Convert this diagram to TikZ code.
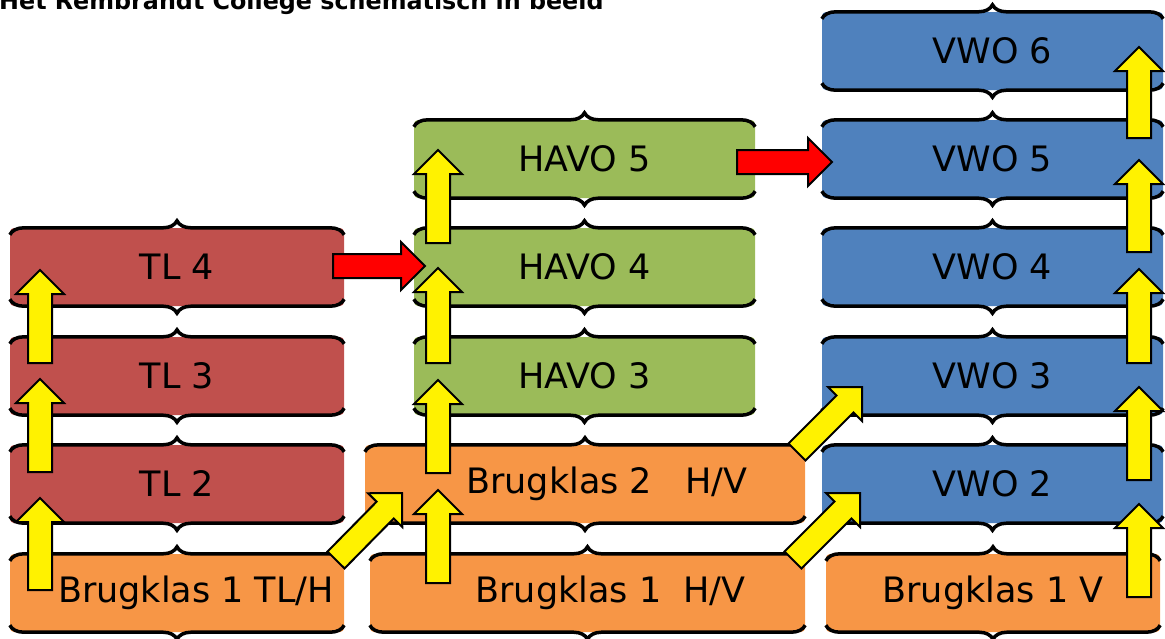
\documentclass[tikz,border=0pt]{standalone}
\usepackage{fontspec}
\setmainfont{DejaVu Sans}
\usetikzlibrary{calc,decorations.pathreplacing}

\definecolor{tlred}{HTML}{C0504D}
\definecolor{havogreen}{HTML}{9BBB59}
\definecolor{vwoblue}{HTML}{4F81BD}
\definecolor{brugorange}{HTML}{F79646}

\tikzset{
  level/.style={fill=#1, rounded corners=4pt, inner sep=0pt, minimum height=78pt,
    font=\fontsize{35pt}{42pt}\selectfont},
  brace line/.style={decorate, decoration={brace, amplitude=14pt}, line width=3.5pt},
}

% block arrow from #2 to #3, filled with #1
\newcommand{\blockarrow}[3]{%
  \filldraw[fill=#1, draw=black, line width=2pt]
    ($(#2)!12pt!-90:(#3)$) -- ($(#3)!24pt!(#2)!12pt!90:(#2)$) -- ($(#3)!24pt!(#2)!24pt!90:(#2)$) -- (#3)
    -- ($(#3)!24pt!(#2)!24pt!-90:(#2)$) -- ($(#3)!24pt!(#2)!12pt!-90:(#2)$) -- ($(#2)!12pt!90:(#3)$) -- cycle;}

\begin{document}
\begin{tikzpicture}[x=1pt,y=-1pt]
\useasboundingbox (0,0) rectangle (1165,638);

\node[anchor=base west, inner sep=0pt, font=\bfseries\fontsize{23.8pt}{28pt}\selectfont] (title) at (-1,9)
  {Het Rembrandt College schematisch in beeld};

% TL
\node[level=tlred, minimum width=334pt] (tl4) at (177,267) {TL 4};
\node[level=tlred, minimum width=334pt] (tl3) at (177,376) {TL 3};
\node[level=tlred, minimum width=334pt] (tl2) at (177,484) {TL 2};
\node[level=brugorange, minimum width=334pt] (bk1tlh) at (177,593) {\hspace*{38pt}Brugklas 1 TL/H};

% HAVO
\node[level=havogreen, minimum width=341pt] (havo5) at (584.5,159) {HAVO 5};
\node[level=havogreen, minimum width=341pt] (havo4) at (584.5,267) {HAVO 4};
\node[level=havogreen, minimum width=341pt] (havo3) at (584.5,376) {HAVO 3};
\node[level=brugorange, minimum width=440pt] (bk2hv) at (585,484) {\hspace*{44pt}Brugklas 2~~~H/V};
\node[level=brugorange, minimum width=435pt] (bk1hv) at (587.5,593) {\hspace*{46pt}Brugklas 1~~H/V};

% VWO
\node[level=vwoblue, minimum width=341pt] (vwo6) at (992.5,51) {VWO 6};
\node[level=vwoblue, minimum width=341pt] (vwo5) at (992.5,159) {VWO 5};
\node[level=vwoblue, minimum width=341pt] (vwo4) at (992.5,267) {VWO 4};
\node[level=vwoblue, minimum width=341pt] (vwo3) at (992.5,376) {VWO 3};
\node[level=vwoblue, minimum width=341pt] (vwo2) at (992.5,484) {VWO 2};
\node[level=brugorange, minimum width=334pt] (bk1v) at (993,593) {Brugklas 1 V};

\foreach \n in {tl4,tl3,tl2,bk1tlh,havo5,havo4,havo3,bk2hv,bk1hv,vwo6,vwo5,vwo4,vwo3,vwo2,bk1v} {
  \draw[brace line] ([yshift=-7pt]\n.north west) -- ([yshift=-7pt]\n.north east);
  \draw[brace line] ([yshift=7pt]\n.south east) -- ([yshift=7pt]\n.south west);
}

% up arrows
\foreach \t/\h [count=\i] in {590/498, 472/379, 363/270} {
  \coordinate (tlup\i-s) at (40,\t);
  \coordinate (tlup\i-e) at (40,\h);
  \blockarrow{yellow}{tlup\i-s}{tlup\i-e}
}
\foreach \t/\h [count=\i] in {583/490, 473/380, 363/268, 243/150} {
  \coordinate (havoup\i-s) at (438,\t);
  \coordinate (havoup\i-e) at (438,\h);
  \blockarrow{yellow}{havoup\i-s}{havoup\i-e}
}
\foreach \t/\h [count=\i] in {597/504, 480/387, 363/269, 252/160, 138/47} {
  \coordinate (vwoup\i-s) at (1139,\t);
  \coordinate (vwoup\i-e) at (1139,\h);
  \blockarrow{yellow}{vwoup\i-s}{vwoup\i-e}
}

% diagonal arrows
\coordinate (d1s) at (336,560); \coordinate (d1e) at (402,493);
\coordinate (d2s) at (793,560); \coordinate (d2e) at (860,493);
\coordinate (d3s) at (797,452); \coordinate (d3e) at (862,387);
\blockarrow{yellow}{d1s}{d1e}
\blockarrow{yellow}{d2s}{d2e}
\blockarrow{yellow}{d3s}{d3e}

% red arrows
\coordinate (r1s) at (333,266); \coordinate (r1e) at (425,266);
\coordinate (r2s) at (737,162); \coordinate (r2e) at (832,162);
\blockarrow{red}{r1s}{r1e}
\blockarrow{red}{r2s}{r2e}

\end{tikzpicture}
\end{document}
